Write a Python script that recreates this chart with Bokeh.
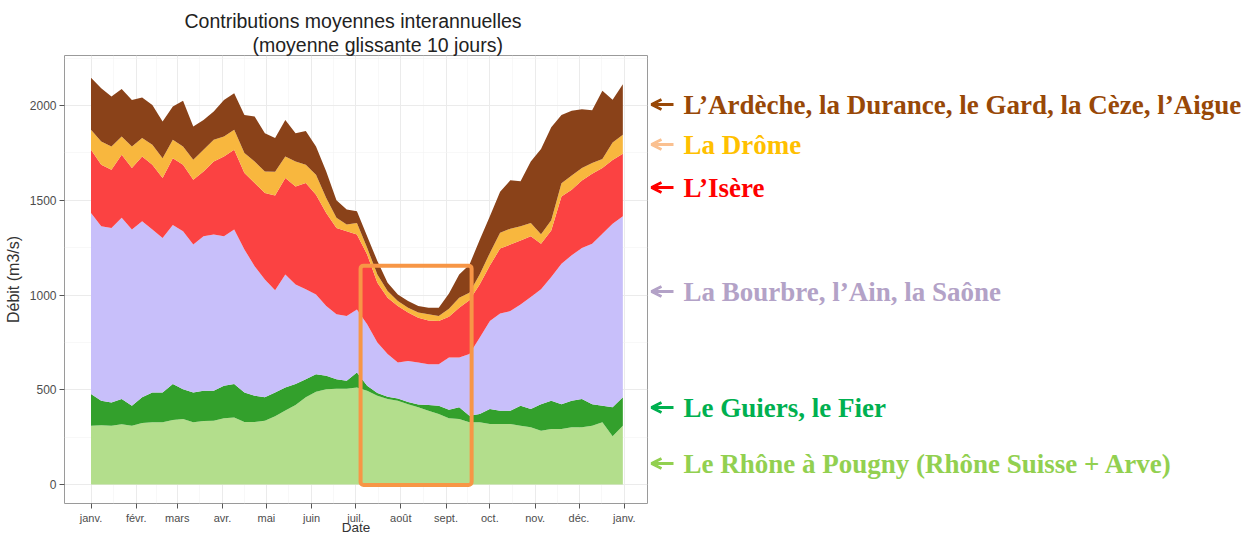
from bokeh.plotting import figure
from bokeh.models import (ColumnDataSource, Range1d, FixedTicker, BoxAnnotation,
                          Arrow, OpenHead, Title)
from bokeh.layouts import row
from bokeh.embed import file_html
from bokeh.resources import INLINE
from bokeh.core.properties import value

# ---------------- data (10-day moving average, m3/s) ----------------
days = list(range(0, 365, 7))  # day of year, 0 = 1 janvier

rhone = [310, 313, 310, 318, 310, 325, 328, 328, 340, 346, 328, 335, 337, 350, 354, 330, 330, 337,
         360, 390, 420, 460, 490, 503, 505, 505, 512, 495, 468, 451, 442, 424, 407, 389, 372, 350,
         346, 328, 328, 319, 319, 319, 310, 302, 284, 293, 293, 302, 302, 310, 328, 255, 310]
guiers = [167, 129, 123, 133, 106, 135, 158, 158, 190, 157, 158, 160, 158, 171, 176, 156, 138, 123,
          125, 122, 110, 96, 92, 71, 51, 42, 79, 26, 15, 12, 12, 12, 15, 30, 44, 44,
          61, 35, 44, 79, 70, 70, 106, 96, 140, 149, 131, 140, 149, 114, 88, 152, 150]
bourbre = [956, 921, 921, 956, 929, 929, 859, 815, 840, 834, 780, 815, 824, 789, 815, 754, 684, 622,
           540, 596, 526, 474, 421, 368, 342, 342, 333, 324, 266, 225, 190, 216, 222, 216, 219, 276,
           263, 325, 403, 465, 514, 526, 534, 592, 606, 653, 741, 768, 797, 847, 907, 969, 955]
isere = [333, 324, 307, 333, 325, 342, 342, 316, 352, 350, 342, 342, 386, 421, 421, 404, 439, 456,
         500, 509, 517, 561, 526, 491, 456, 448, 395, 369, 316, 298, 298, 255, 236, 231, 228, 215,
         263, 284, 281, 293, 342, 351, 338, 320, 240, 245, 355, 346, 356, 369, 347, 337, 330]
drome = [106, 123, 123, 96, 114, 97, 106, 105, 97, 97, 106, 114, 114, 105, 106, 105, 114, 114,
         125, 114, 132, 96, 106, 79, 53, 35, 61, 35, 43, 35, 26, 26, 27, 32, 26, 43,
         53, 40, 52, 66, 83, 84, 75, 70, 50, 55, 70, 74, 66, 56, 48, 92, 100]
ardeche = [275, 281, 263, 251, 245, 214, 210, 193, 176, 241, 175, 158, 149, 193, 192, 201, 237, 202,
           178, 193, 149, 179, 149, 140, 93, 79, 62, 61, 71, 44, 35, 35, 35, 35, 44, 80,
           122, 148, 182, 193, 217, 255, 237, 325, 450, 490, 360, 342, 310, 279, 360, 225, 267]

series_keys = ["rhone", "guiers", "bourbre", "isere", "drome", "ardeche"]
series_names = ["Le Rhône à Pougny (Rhône Suisse + Arve)", "Le Guiers, le Fier",
                "La Bourbre, l’Ain, la Saône", "L’Isère", "La Drôme",
                "L’Ardèche, la Durance, le Gard, la Cèze, l’Aigue"]
area_colors = ["#B3DE8C", "#33A02C", "#C8BFFA", "#FB4242", "#F8B73E", "#8A4219"]
label_colors = ["#92D050", "#00B050", "#B3A2C7", "#FF0000", "#FFC000", "#984807"]
arrow_colors = ["#92D050", "#00B050", "#B3A2C7", "#FF0000", "#FAC090", "#984807"]

month_ticks = [0, 31, 59, 90, 120, 151, 181, 212, 243, 273, 304, 334, 365]
month_labels = ["janv.", "févr.", "mars", "avr.", "mai", "juin", "juil.", "août", "sept.",
                "oct.", "nov.", "déc.", "janv."]
y_ticks = [0, 500, 1000, 1500, 2000]
y_minor = [250, 750, 1250, 1750, 2250]

highlight_days = (184.5, 260.5)     # juil. -> mi-sept.
highlight_flow = (-3, 1155)

# ---------------- page geometry (canvas px) ----------------
PAGE_W, PAGE_H = 1243, 538
FIG_W = 649
FRAME_L, FRAME_R, FRAME_T, FRAME_B = 64, 647, 55, 503
X0, XS = 90.5, 1.4611      # px of day 0, px per day
Y0, YS = 484.0, 0.1895     # px of 0 m3/s, px per m3/s


def xd(px):
    return (px - X0) / XS


def yd(py):
    return (Y0 - py) / YS


src = ColumnDataSource(dict(day=days, rhone=rhone, guiers=guiers, bourbre=bourbre,
                            isere=isere, drome=drome, ardeche=ardeche))

p = figure(width=FIG_W, height=PAGE_H,
           x_range=Range1d(xd(FRAME_L), xd(FRAME_R)),
           y_range=Range1d(yd(FRAME_B), yd(FRAME_T)),
           toolbar_location=None, output_backend="svg",
           min_border_left=FRAME_L, min_border_right=FIG_W - FRAME_R,
           min_border_top=FRAME_T, min_border_bottom=PAGE_H - FRAME_B,
           background_fill_color="white", border_fill_color="white")

p.varea_stack(stackers=series_keys, x="day", color=area_colors, source=src)

xt = FixedTicker(ticks=month_ticks,
                 minor_ticks=[(a + b) / 2 for a, b in zip(month_ticks[:-1], month_ticks[1:])])
yt = FixedTicker(ticks=y_ticks, minor_ticks=y_minor)
p.xaxis.ticker = xt
p.yaxis.ticker = yt
p.xgrid.ticker = xt
p.ygrid.ticker = yt
p.xaxis.major_label_overrides = {t: l for t, l in zip(month_ticks, month_labels)}

for g in (p.xgrid, p.ygrid):
    g.grid_line_color = "#EBEBEB"
    g.grid_line_width = 1
    g.minor_grid_line_color = "#F3F3F3"
    g.minor_grid_line_width = 0.6
    g.level = "underlay"

p.axis.axis_line_color = None
p.axis.major_tick_line_color = "#555555"
p.axis.major_tick_out = 5
p.axis.major_tick_in = 0
p.axis.minor_tick_line_color = None
p.axis.major_label_text_font = "Liberation Sans"
p.axis.major_label_text_color = "#4D4D4D"
p.axis.major_label_standoff = 3
p.yaxis.major_label_text_font_size = "12px"
p.xaxis.major_label_text_font_size = "11px"
p.axis.axis_label_text_font = "Liberation Sans"
p.axis.axis_label_text_font_style = "normal"
p.axis.axis_label_text_color = "#333333"
p.yaxis.axis_label = "Débit (m3/s)"
p.yaxis.axis_label_text_font_size = "16px"
p.yaxis.axis_label_standoff = 5
p.xaxis.axis_label = "Date"
p.xaxis.axis_label_text_font_size = "13.5px"
p.xaxis.axis_label_standoff = -7
p.outline_line_color = "#9A9A9A"
p.outline_line_width = 1

# two-line title (second line is indented, as in the original)
p.title.text = "Contributions moyennes interannuelles"
p.title.align = "left"
p.title.offset = 120
p.title.standoff = 0
p.title.text_font = "Liberation Sans"
p.title.text_font_size = "19.5px"
p.title.text_font_style = "normal"
p.title.text_color = "#222222"
p.add_layout(Title(text="(moyenne glissante 10 jours)", align="left", offset=188,
                   standoff=0, text_font="Liberation Sans", text_font_size="19.5px",
                   text_font_style="normal", text_color="#222222"), "above")

p.add_layout(BoxAnnotation(left=highlight_days[0], right=highlight_days[1],
                           bottom=highlight_flow[0], top=highlight_flow[1],
                           fill_color=None, fill_alpha=0, line_color="#F79646", line_alpha=1.0,
                           line_width=4, border_radius=3))

# ---------------- right-hand annotations (frame aligned with the chart frame) ----------------
AW = PAGE_W - FIG_W
q = figure(width=AW, height=PAGE_H, x_range=Range1d(FIG_W, PAGE_W), y_range=Range1d(FRAME_B, FRAME_T),
           toolbar_location=None, output_backend="svg", x_axis_type=None, y_axis_type=None,
           min_border_left=0, min_border_right=0, min_border_top=FRAME_T,
           min_border_bottom=PAGE_H - FRAME_B,
           background_fill_color="white", border_fill_color="white", outline_line_color=None)
q.grid.visible = False

label_y = [463, 407, 291, 187, 144, 104]   # px, same order as the series
q.text(x=[683] * len(series_names), y=label_y, text=series_names, text_color=label_colors,
       text_font=value("Liberation Serif"), text_font_style="bold", text_font_size="27px",
       text_align="left", text_baseline="middle")
for yy, c in zip(label_y, arrow_colors):
    q.add_layout(Arrow(x_start=673, y_start=yy, x_end=651, y_end=yy, line_color=c, line_width=3,
                       end=OpenHead(size=10, line_width=3, line_color=c)))

layout = row(p, q)
open("out.html", "w").write(file_html(layout, INLINE))
